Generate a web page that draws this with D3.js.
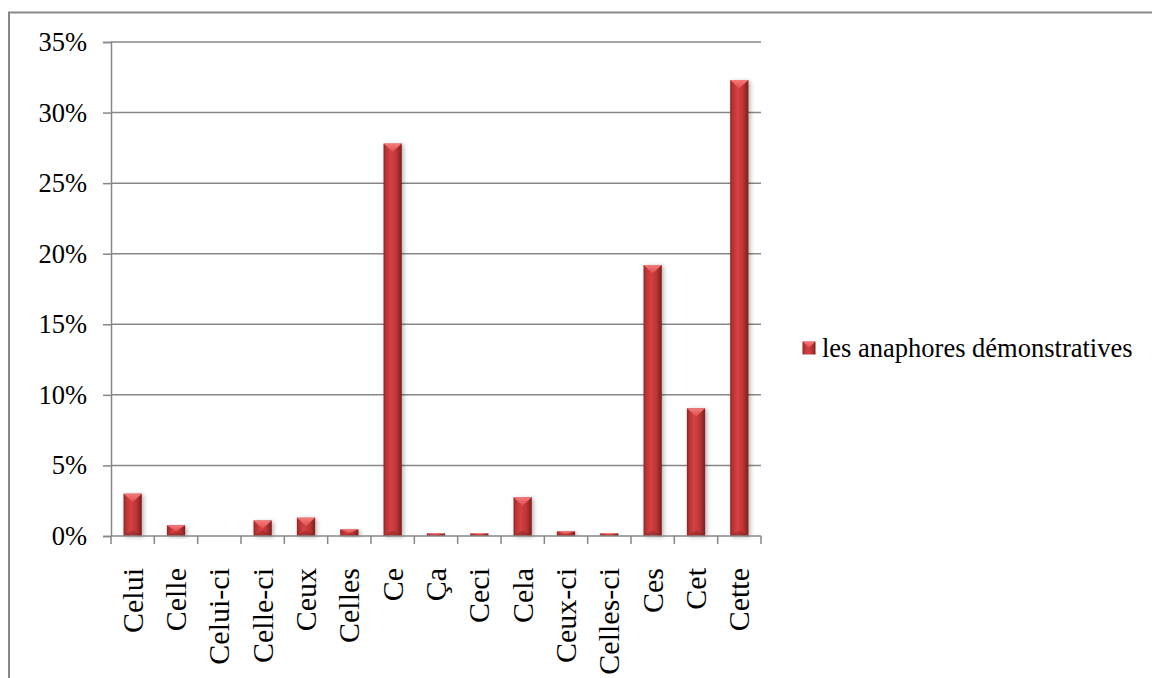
<!DOCTYPE html>
<html>
<head>
<meta charset="utf-8">
<script src="https://cdn.jsdelivr.net/npm/d3@7"></script>
<style>
  html, body { margin: 0; padding: 0; background: #ffffff; }
  svg { display: block; }
  text { font-family: "Liberation Serif", "Times New Roman", serif; fill: #000; }
</style>
</head>
<body>
<svg id="chart" width="1152" height="678"></svg>
<script>
// Demonstrative anaphora frequencies (share of all occurrences)
const categories = ["Celui", "Celle", "Celui-ci", "Celle-ci", "Ceux", "Celles", "Ce", "Ça",
                    "Ceci", "Cela", "Ceux-ci", "Celles-ci", "Ces", "Cet", "Cette"];
const values = [0.030, 0.0076, 0.0, 0.011, 0.013, 0.0047, 0.278, 0.0019,
                0.0019, 0.0274, 0.0033, 0.0019, 0.192, 0.0905, 0.323];
const seriesName = "les anaphores démonstratives";
const yTicks = [0, 0.05, 0.10, 0.15, 0.20, 0.25, 0.30, 0.35];

const svg = d3.select("#chart");
const gridColor = "#878787";

const plot = { left: 111, right: 761, top: 42, bottom: 536 };

const x = d3.scaleBand()
  .domain(categories)
  .range([plot.left, plot.right])
  .paddingInner(0.578)
  .paddingOuter(0.289);

const xEdge = d3.scaleLinear().domain([0, categories.length]).range([plot.left, plot.right]);

const y = d3.scaleLinear().domain([0, 0.35]).range([plot.bottom, plot.top]);

// Outer chart frame (runs off the right and bottom edges)
svg.append("rect")
  .attr("x", 9).attr("y", 12.5)
  .attr("width", 1160).attr("height", 700)
  .attr("fill", "none")
  .attr("stroke", gridColor)
  .attr("stroke-width", 2);

// Gradients and shadow for the bevelled bars
const defs = svg.append("defs");
const body = defs.append("linearGradient").attr("id", "barBody")
  .attr("x1", "0%").attr("x2", "100%").attr("y1", "0%").attr("y2", "0%");
[["0%", "#8e2424"], ["12%", "#b53232"], ["40%", "#d64242"], ["70%", "#bd3535"], ["100%", "#7e1f1f"]]
  .forEach(([o, c]) => body.append("stop").attr("offset", o).attr("stop-color", c));

const cap = defs.append("linearGradient").attr("id", "barCap")
  .attr("x1", "0%").attr("x2", "0%").attr("y1", "0%").attr("y2", "100%");
[["0%", "#f47a7a"], ["100%", "#e25050"]]
  .forEach(([o, c]) => cap.append("stop").attr("offset", o).attr("stop-color", c));

const shadow = defs.append("filter").attr("id", "barShadow")
  .attr("x", "-50%").attr("y", "-10%").attr("width", "200%").attr("height", "130%");
shadow.append("feDropShadow")
  .attr("dx", 2).attr("dy", 1).attr("stdDeviation", 2)
  .attr("flood-color", "#000").attr("flood-opacity", 0.28);

// Horizontal gridlines + y axis ticks/labels
const yAxis = d3.axisLeft(y)
  .tickValues(yTicks)
  .tickFormat(d3.format(".0%"))
  .tickSize(8)
  .tickPadding(16);

const gy = svg.append("g").attr("transform", `translate(${plot.left},0)`).call(yAxis);
gy.select(".domain").attr("stroke", gridColor).attr("stroke-width", 1.5);
gy.selectAll(".tick line").attr("stroke", gridColor).attr("stroke-width", 1.5);
gy.selectAll(".tick text")
  .attr("font-size", "26.5px")
  .attr("font-family", "Liberation Serif, Times New Roman, serif")
  .attr("fill", "#000");

svg.append("g").selectAll("line.grid")
  .data(yTicks.filter(d => d > 0))
  .join("line")
  .attr("x1", plot.left).attr("x2", plot.right)
  .attr("y1", d => y(d)).attr("y2", d => y(d))
  .attr("stroke", gridColor).attr("stroke-width", 1.5);

// Bars
const bars = svg.append("g");
categories.forEach((c, i) => {
  const v = values[i];
  if (v <= 0) return;
  const x0 = x(c), w = x.bandwidth();
  const y0 = y(v), h = y(0) - y(v);
  const g = bars.append("g");
  g.append("rect")
    .attr("x", x0).attr("y", y0).attr("width", w).attr("height", h)
    .attr("fill", "url(#barBody)")
    .attr("filter", h > 4 ? "url(#barShadow)" : null);
  if (h > 2) {
    const d = Math.min(w * 0.45, h * 0.55);
    g.append("path")
      .attr("d", `M${x0},${y0} L${x0 + w},${y0} L${x0 + w / 2},${y0 + d} Z`)
      .attr("fill", "url(#barCap)");
    const db = Math.min(w * 0.3, h * 0.4);
    g.append("path")
      .attr("d", `M${x0},${y0 + h} L${x0 + w},${y0 + h} L${x0 + w / 2},${y0 + h - db} Z`)
      .attr("fill", "#6e1a1a").attr("opacity", 0.35);
  } else {
    g.select("rect").attr("fill", "#e04a4a");
  }
});

// X axis baseline and category ticks
svg.append("line")
  .attr("x1", plot.left).attr("x2", plot.right)
  .attr("y1", y(0)).attr("y2", y(0))
  .attr("stroke", gridColor).attr("stroke-width", 1.5);

svg.append("g").selectAll("line")
  .data(d3.range(categories.length + 1))
  .join("line")
  .attr("x1", d => xEdge(d)).attr("x2", d => xEdge(d))
  .attr("y1", y(0)).attr("y2", y(0) + 8)
  .attr("stroke", gridColor).attr("stroke-width", 1.5);

// Rotated category labels
svg.append("g").selectAll("text")
  .data(categories)
  .join("text")
  .attr("transform", d => `translate(${x(d) + x.bandwidth() / 2},${568}) rotate(-90)`)
  .attr("text-anchor", "end")
  .attr("dy", "0.33em")
  .attr("font-size", "30px")
  .text(d => d);

// Legend
const lg = svg.append("g").attr("transform", "translate(802.5,341.5)");
lg.append("rect").attr("width", 13).attr("height", 13).attr("fill", "url(#barBody)");
lg.append("path").attr("d", "M0,0 L13,0 L6.5,6 Z").attr("fill", "url(#barCap)");
lg.append("text")
  .attr("x", 19.5).attr("y", 6.5).attr("dy", "0.35em")
  .attr("font-size", "26.5px")
  .text(seriesName);
</script>
</body>
</html>
